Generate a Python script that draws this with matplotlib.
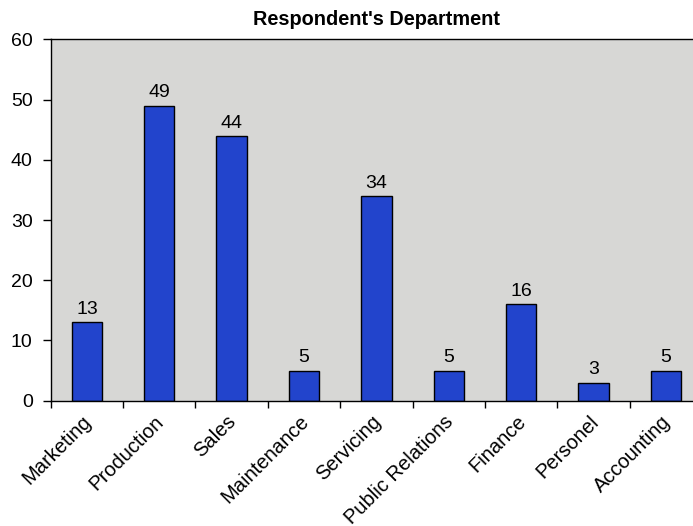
import matplotlib
matplotlib.use("Agg")
import matplotlib.pyplot as plt
import matplotlib.transforms as mtransforms
import numpy as np

categories = ["Marketing", "Production", "Sales", "Maintenance", "Servicing",
              "Public Relations", "Finance", "Personel", "Accounting"]
counts = [13, 49, 44, 5, 34, 5, 16, 3, 5]
yticks = [0, 10, 20, 30, 40, 50, 60]
title = "Respondent's Department"

plt.rcParams['font.family'] = ['Liberation Sans', 'DejaVu Sans']

fig = plt.figure(figsize=(6.93, 5.26), dpi=100)
ax = fig.add_axes([0.0732, 0.2382, 0.940, 0.687])
ax.set_facecolor('#d7d7d5')

x = np.arange(len(categories))
bars = ax.bar(x, counts, width=0.42, color='#2244cc', edgecolor='black', linewidth=1.0)
for xi, v in zip(x, counts):
    ax.annotate(str(v), (xi, v), xytext=(0, 3), textcoords='offset points',
                ha='center', va='bottom', fontsize=14)

ax.set_xlim(-0.5, len(categories) - 0.5)
ax.set_ylim(0, 60)
ax.set_yticks(yticks)
ax.set_yticklabels([str(t) for t in yticks], fontsize=14)
ax.tick_params(axis='y', direction='out', length=6, width=1, pad=7)

# tick marks at category boundaries, labels at centers
ax.set_xticks(np.arange(len(categories) + 1) - 0.5)
ax.set_xticklabels([])
ax.tick_params(axis='x', which='major', direction='out', length=5, width=1)
ax.set_xticks(x, minor=True)
ax.set_xticklabels(categories, minor=True, rotation=45, ha='right',
                   rotation_mode='anchor', fontsize=14.5)
ax.tick_params(axis='x', which='minor', length=0, pad=8)
offset = mtransforms.ScaledTranslation(-5 / 100, 0, fig.dpi_scale_trans)
for lbl in ax.get_xticklabels(minor=True):
    lbl.set_transform(lbl.get_transform() + offset)

for s in ax.spines.values():
    s.set_linewidth(1.0)
    s.set_color('black')

ax.set_title(title, fontsize=14.3, fontweight='bold', pad=10)

fig.savefig('out.png', dpi=100)
